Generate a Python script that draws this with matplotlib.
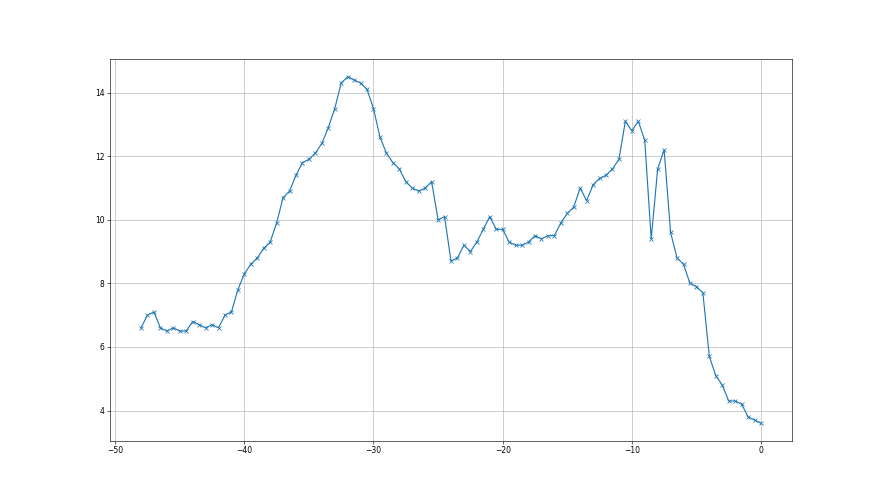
import numpy as np
import matplotlib
matplotlib.use('Agg')
import matplotlib.pyplot as plt

# x runs from -48 to 0 in steps of 0.5
x = np.arange(-48, 0.5, 0.5)
y = [6.6, 7.0, 7.1, 6.6, 6.5, 6.6, 6.5, 6.5, 6.8, 6.7,
     6.6, 6.7, 6.6, 7.0, 7.1, 7.8, 8.3, 8.6, 8.8, 9.1,
     9.3, 9.9, 10.7, 10.9, 11.4, 11.8, 11.9, 12.1, 12.4, 12.9,
     13.5, 14.3, 14.5, 14.4, 14.3, 14.1, 13.5, 12.6, 12.1, 11.8,
     11.6, 11.2, 11.0, 10.9, 11.0, 11.2, 10.0, 10.1, 8.7, 8.8,
     9.2, 9.0, 9.3, 9.7, 10.1, 9.7, 9.7, 9.3, 9.2, 9.2,
     9.3, 9.5, 9.4, 9.5, 9.5, 9.9, 10.2, 10.4, 11.0, 10.6,
     11.1, 11.3, 11.4, 11.6, 11.9, 13.1, 12.8, 13.1, 12.5, 9.4,
     11.6, 12.2, 9.6, 8.8, 8.6, 8.0, 7.9, 7.7, 5.7, 5.1,
     4.8, 4.3, 4.3, 4.2, 3.8, 3.7, 3.6]

fig = plt.figure(figsize=(16, 9), dpi=55)
ax = fig.add_subplot(111)
ax.plot(x, y, marker='x', color='#1f77b4', lw=1.5, ms=6)
ax.grid(True, color='#b0b0b0', lw=0.8)
ax.set_yticks([4, 6, 8, 10, 12, 14])
ax.set_xticks([-50, -40, -30, -20, -10, 0])
fig.savefig('out.png', dpi=55)
